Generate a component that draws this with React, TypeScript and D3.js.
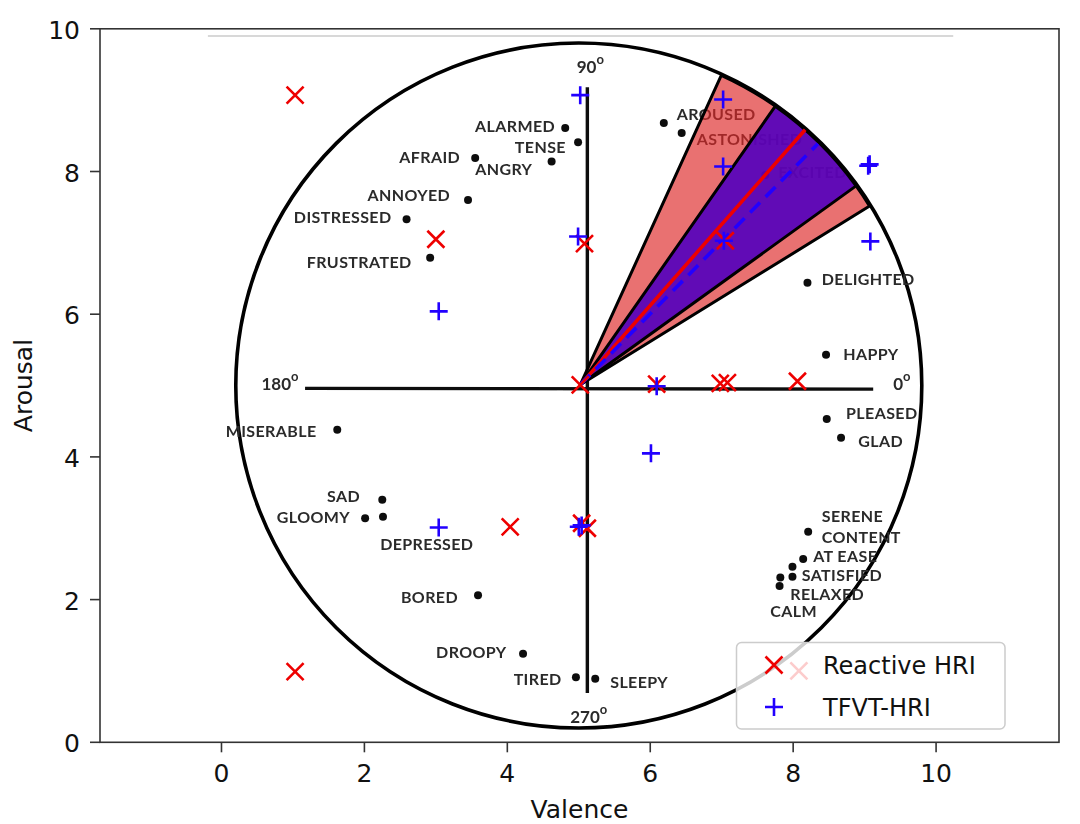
import React from 'react';
import * as d3 from 'd3';

// scatter data (valence, arousal)
const reactiveValence = [1.03, 3.0, 5.08, 7.05, 5.02, 6.09, 6.98, 7.08, 8.06, 4.04, 5.04, 5.12, 1.03, 8.08];
const reactiveArousal = [9.07, 7.05, 6.99, 7.03, 5.01, 5.02, 5.03, 5.04, 5.06, 3.02, 3.07, 3.0, 0.99, 1.0];
const tfvtValence = [5.02, 7.02, 7.02, 9.05, 9.07, 4.99, 7.03, 9.08, 3.04, 6.09, 6.01, 3.04, 5.04, 5.0];
const tfvtArousal = [9.07, 9.01, 8.07, 8.08, 8.1, 7.09, 7.03, 7.02, 6.04, 4.99, 4.05, 3.01, 3.04, 3.02];

// mean direction +- std (degrees) of each method
const seriesNames = ['Reactive HRI', 'TFVT-HRI'];
const meanAngle = [48.6, 45.4];
const stdAngle = [16.9, 9.6];

const valenceTicks = [0, 2, 4, 6, 8, 10];
const arousalTicks = [0, 2, 4, 6, 8, 10];

// circumplex background (Russell)
const circleCenter = [5.0, 5.0];
const circleRadius = 4.8;
const dotValence = [4.81, 4.99, 3.55, 4.62, 3.45, 2.59, 2.92, 6.19, 6.44, 7.61, 8.2, 8.46, 8.47, 8.67, 8.21, 8.14, 7.99, 7.99, 7.82, 7.81, 1.62, 2.25, 2.01, 2.26, 3.59, 4.22, 4.96, 5.23];
const dotArousal = [8.61, 8.41, 8.19, 8.14, 7.6, 7.33, 6.79, 8.68, 8.54, 7.95, 6.44, 5.43, 4.53, 4.27, 2.95, 2.57, 2.46, 2.32, 2.31, 2.19, 4.38, 3.4, 3.14, 3.16, 2.06, 1.24, 0.91, 0.89];
const wordText = ['ALARMED', 'TENSE', 'AFRAID', 'ANGRY', 'ANNOYED', 'DISTRESSED', 'FRUSTRATED', 'AROUSED', 'ASTONISHED', 'EXCITED', 'DELIGHTED', 'HAPPY', 'PLEASED', 'GLAD', 'SERENE', 'CONTENT', 'AT EASE', 'SATISFIED', 'RELAXED', 'CALM', 'MISERABLE', 'SAD', 'GLOOMY', 'DEPRESSED', 'BORED', 'DROOPY', 'TIRED', 'SLEEPY'];
const wordValence = [4.67, 4.82, 3.34, 3.55, 3.2, 2.38, 2.66, 6.37, 6.65, 7.79, 8.4, 8.7, 8.74, 8.91, 8.4, 8.4, 8.28, 8.12, 7.96, 7.68, 1.33, 1.94, 1.8, 2.22, 3.31, 3.99, 4.76, 5.44];
const wordArousal = [8.56, 8.26, 8.12, 7.95, 7.58, 7.28, 6.65, 8.72, 8.37, 7.91, 6.41, 5.36, 4.53, 4.14, 3.09, 2.8, 2.52, 2.26, 2.0, 1.75, 4.28, 3.37, 3.07, 2.7, 1.95, 1.18, 0.8, 0.76];
const wordAnchor = ['end', 'end', 'end', 'start', 'end', 'end', 'end', 'start', 'start', 'start', 'start', 'start', 'start', 'start', 'start', 'start', 'start', 'start', 'start', 'start', 'end', 'end', 'end', 'start', 'end', 'end', 'end', 'start'];
const degreeText = ['90', '180', '0', '270'];
const degreeValence = [4.97, 0.56, 9.4, 4.88];
const degreeArousal = [9.38, 4.94, 4.94, 0.27];
const crossValence = [1.17, 9.12, 5.12, 5.12];
const crossArousal = [4.96, 4.95, 9.18, 0.69];

const W = 1080;
const H = 824;
const left = 100, right = 1059, top = 28.8, bottom = 742.3;

export default function App() {
  const x = d3.scaleLinear().domain([-1.7, 11.72]).range([left, right]);
  const y = d3.scaleLinear().domain([0, 10]).range([bottom, top]);
  const k = x(1) - x(0);

  const apex = [x(5.02), y(5.01)];
  const R = 4.76 * k;
  const arc = d3.arc<any>().innerRadius(0).outerRadius(R);
  const rad = (deg: number) => (deg * Math.PI) / 180;
  const wedge = (i: number) =>
    arc({ startAngle: Math.PI / 2 - rad(meanAngle[i] + stdAngle[i]), endAngle: Math.PI / 2 - rad(meanAngle[i] - stdAngle[i]) });

  const red = '#ee0000';
  const blue = '#2200ff';
  const xMark = (s: number) => `M${-s},${-s}L${s},${s}M${-s},${s}L${s},${-s}`;
  const plus = (s: number) => `M${-s},0H${s}M0,${-s}V${s}`;
  const font = 'DejaVu Sans, sans-serif';
  const scanFont = 'Lato, sans-serif';

  return (
    <svg width={W} height={H} style={{ position: 'absolute', left: 0, top: 0, background: '#fff' }} fontFamily={font}>
      <defs>
        <clipPath id="plot"><rect x={left} y={top} width={right - left} height={bottom - top} /></clipPath>
        <filter id="scan"><feGaussianBlur stdDeviation="0.5" /></filter>
      </defs>

      <g clipPath="url(#plot)">
        {/* scanned circumplex */}
        <line x1={x(-0.19)} x2={x(10.24)} y1={y(9.9)} y2={y(9.9)} stroke="#d8d8d8" strokeWidth={2} />
        <g filter="url(#scan)">
          <ellipse cx={x(circleCenter[0])} cy={y(circleCenter[1])} rx={circleRadius * k} ry={y(0) - y(circleRadius)} fill="none" stroke="#000" strokeWidth={3.6} />
          <line x1={x(crossValence[0])} y1={y(crossArousal[0])} x2={x(crossValence[1])} y2={y(crossArousal[1])} stroke="#111" strokeWidth={3.4} />
          <line x1={x(crossValence[2])} y1={y(crossArousal[2])} x2={x(crossValence[3])} y2={y(crossArousal[3])} stroke="#111" strokeWidth={3.4} />
          {dotValence.map((v, i) => (
            <circle key={'d' + i} cx={x(v)} cy={y(dotArousal[i])} r={4} fill="#111" />
          ))}
          {wordText.map((t, i) => (
            <text key={'w' + i} x={x(wordValence[i])} y={y(wordArousal[i])} textAnchor={wordAnchor[i] as any} fontFamily={scanFont} fontSize={16} fontWeight={700} letterSpacing={0.4} fill="#2b2b2b">{t}</text>
          ))}
          {degreeText.map((t, i) => (
            <text key={'g' + i} x={x(degreeValence[i])} y={y(degreeArousal[i])} fontFamily={scanFont} fontSize={17} fontWeight={700} fill="#2b2b2b">
              {t}<tspan dy={-9} fontSize={13}>o</tspan>
            </text>
          ))}
        </g>

        {/* direction wedges: mean +- std */}
        <g transform={`translate(${apex[0]},${apex[1]})`}>
          <path d={wedge(0) as string} fill="rgb(222,40,40)" fillOpacity={0.66} stroke="#000" strokeWidth={3} strokeLinejoin="round" />
          <path d={wedge(1) as string} fill="rgb(82,0,190)" fillOpacity={0.9} stroke="#000" strokeWidth={3} strokeLinejoin="round" />
          <line x1={0} y1={0} x2={R * Math.cos(rad(meanAngle[0]))} y2={-R * Math.sin(rad(meanAngle[0]))} stroke={red} strokeWidth={3.6} />
          <line x1={0} y1={0} x2={0.995 * R * Math.cos(rad(meanAngle[1]))} y2={-0.995 * R * Math.sin(rad(meanAngle[1]))} stroke={blue} strokeWidth={3.6} strokeDasharray="14,8" />
        </g>

        {reactiveValence.map((v, i) => (
          <path key={'r' + i} transform={`translate(${x(v)},${y(reactiveArousal[i])})`} d={xMark(8.5)} stroke={red} strokeWidth={2.6} fill="none" />
        ))}
        {tfvtValence.map((v, i) => (
          <path key={'b' + i} transform={`translate(${x(v)},${y(tfvtArousal[i])})`} d={plus(9)} stroke={blue} strokeWidth={2.6} fill="none" />
        ))}
      </g>

      {/* legend */}
      <g>
        <rect x={736.5} y={642.5} width={268.5} height={86.5} rx={5} fill="#fff" fillOpacity={0.8} stroke="#cccccc" strokeWidth={1.5} />
        {seriesNames.map((s, i) => (
          <g key={s} transform={`translate(0,${i * 42})`}>
            <path transform="translate(774,665)" d={i === 0 ? xMark(8.5) : plus(9)} stroke={i === 0 ? red : blue} strokeWidth={2.6} fill="none" />
            <text x={823} y={673.5} fontSize={24} fill="#111">{s}</text>
          </g>
        ))}
      </g>

      {/* axes */}
      <rect x={left} y={top} width={right - left} height={bottom - top} fill="none" stroke="#333" strokeWidth={1.6} />
      {valenceTicks.map(t => (
        <g key={'xt' + t}>
          <line x1={x(t)} x2={x(t)} y1={bottom} y2={bottom + 10} stroke="#333" strokeWidth={1.6} />
          <text x={x(t)} y={782} textAnchor="middle" fontSize={25} fill="#111">{t}</text>
        </g>
      ))}
      {arousalTicks.map(t => (
        <g key={'yt' + t}>
          <line x1={left - 10} x2={left} y1={y(t)} y2={y(t)} stroke="#333" strokeWidth={1.6} />
          <text x={80} y={y(t) + 10} textAnchor="end" fontSize={25} fill="#111">{t}</text>
        </g>
      ))}
      <text x={(left + right) / 2} y={818} textAnchor="middle" fontSize={25} fill="#111">Valence</text>
      <text transform={`translate(32,${(top + bottom) / 2}) rotate(-90)`} textAnchor="middle" fontSize={25} fill="#111">Arousal</text>
    </svg>
  );
}
